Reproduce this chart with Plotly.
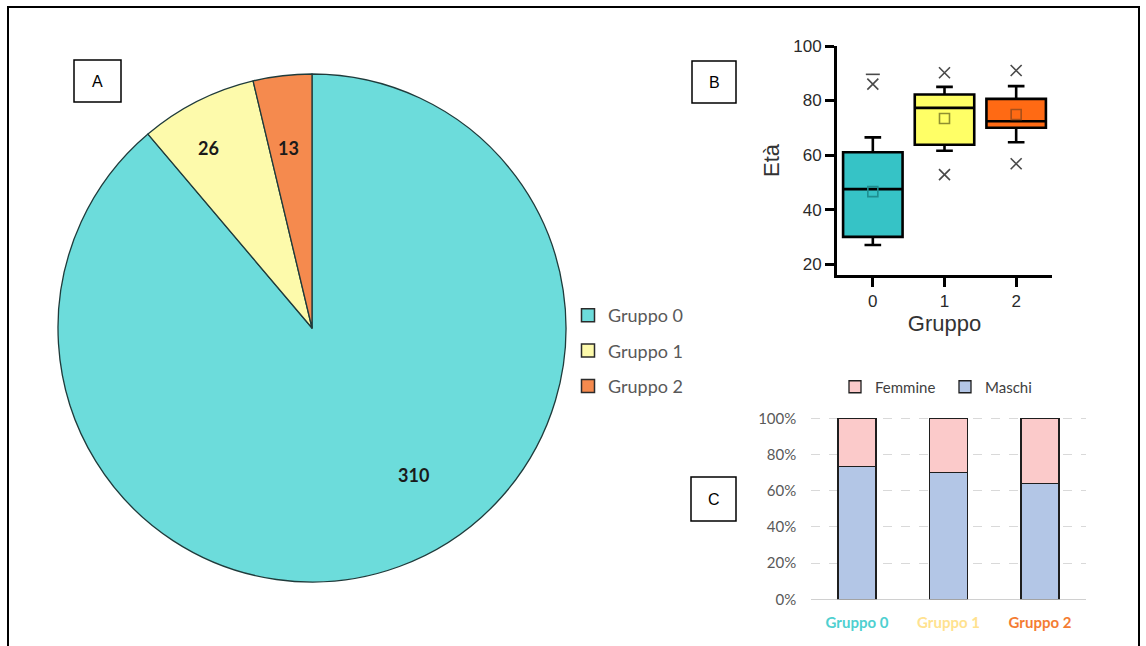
import plotly.graph_objects as go

W, H = 1146, 646

# ---------------- data ----------------
groups = ["Gruppo 0", "Gruppo 1", "Gruppo 2"]
pie_counts = [310, 26, 13]

box_x = [0, 1, 2]
box_q1 = [30.0, 63.8, 70.0]
box_median = [47.5, 77.3, 72.4]
box_q3 = [61.0, 82.2, 80.6]
box_low = [27.0, 61.6, 64.7]
box_high = [66.5, 85.0, 85.3]
box_mean = [46.6, 73.4, 74.9]
pct1_x = [0, 1, 2]          # 1% percentile markers (x) – group 0 has none visible
pct1_y = [None, 52.8, 56.8]
pct99_x = [0, 1, 2]
pct99_y = [86.0, 90.2, 91.0]
max_x = [0]
max_y = [89.6]

sex_maschi = [73.5, 70.0, 64.0]
sex_femmine = [26.5, 30.0, 36.0]
y_ticks_c = [0, 20, 40, 60, 80, 100]
y_ticktext_c = ["0%", "20%", "40%", "60%", "80%", "100%"]

pie_colors = ["#6CDCDB", "#FDFAAB", "#F58A4E"]
box_colors = ["#36C3C6", "#FFFF66", "#FF6A14"]
mean_colors = ["#1E8E90", "#8F8F30", "#A8501A"]
label_colors = ["#4FD0D0", "#FFE28F", "#F47C32"]


def px(x):
    return x / W


def py(y):
    return 1 - y / H


fig = go.Figure()

# ---------------- A: pie ----------------
fig.add_trace(go.Pie(
    labels=groups, values=pie_counts, sort=False, direction="clockwise", rotation=0,
    marker=dict(colors=pie_colors, line=dict(color="#1F3B3B", width=1.3)),
    textinfo="none", hoverinfo="label+value", showlegend=False,
    domain=dict(x=[px(58), px(566)], y=[py(582), py(74)]),
))

# legend for pie (library legend, one entry per group)
for g, c in zip(groups, pie_colors):
    fig.add_trace(go.Scatter(
        x=[None], y=[None], mode="markers", name=g, legend="legend", legendgroup=g,
        marker=dict(symbol="square", size=13, color=c, line=dict(color="#2B2B2B", width=1.5)),
        xaxis="x", yaxis="y", hoverinfo="skip",
    ))

# ---------------- B: box plot ----------------
for i in range(3):
    fig.add_trace(go.Box(
        x=[box_x[i]], q1=[box_q1[i]], median=[box_median[i]], q3=[box_q3[i]],
        lowerfence=[box_low[i]], upperfence=[box_high[i]],
        boxpoints=False, width=0.83, whiskerwidth=0.28,
        fillcolor=box_colors[i], line=dict(color="black", width=2.6),
        showlegend=False, xaxis="x", yaxis="y",
    ))
    fig.add_trace(go.Scatter(
        x=[box_x[i]], y=[box_mean[i]], mode="markers", showlegend=False,
        marker=dict(symbol="square-open", size=10, color=mean_colors[i], line=dict(width=1.6)),
        xaxis="x", yaxis="y",
    ))

fig.add_trace(go.Scatter(
    x=pct99_x + pct1_x, y=pct99_y + pct1_y, mode="markers", showlegend=False,
    marker=dict(symbol="x-thin-open", size=11, color="#4A4A4A", line=dict(width=1.6)),
    xaxis="x", yaxis="y",
))
fig.add_trace(go.Scatter(
    x=max_x, y=max_y, mode="markers", showlegend=False,
    marker=dict(symbol="line-ew-open", size=10, color="#4A4A4A", line=dict(width=1.6)),
    xaxis="x", yaxis="y",
))

# ---------------- C: stacked bars ----------------
fig.add_trace(go.Bar(
    x=groups, y=sex_maschi, name="Maschi", legend="legend2",
    marker=dict(color="#B3C6E6", line=dict(color="#1E1E1E", width=1.3)),
    xaxis="x2", yaxis="y2",
))
fig.add_trace(go.Bar(
    x=groups, y=sex_femmine, name="Femmine", legend="legend2",
    marker=dict(color="#FBCACA", line=dict(color="#1E1E1E", width=1.3)),
    xaxis="x2", yaxis="y2",
))

# ---------------- annotations ----------------
ann = []
pie_label_pos = [(413, 475), (208, 148), (288, 148)]
for v, (lx, ly) in zip(pie_counts, pie_label_pos):
    ann.append(dict(x=px(lx), y=py(ly), xref="paper", yref="paper", text=f"<b>{v}</b>",
                    xanchor="center", yanchor="middle",
                    showarrow=False, font=dict(family="Lato", size=18, color="#1A1A1A")))

panel_boxes = {"A": (74, 60, 121, 102), "B": (692, 61, 736, 103), "C": (691, 477, 736, 521)}
shapes = []
for lab, (x0, y0, x1, y1) in panel_boxes.items():
    shapes.append(dict(type="rect", xref="paper", yref="paper", x0=px(x0), x1=px(x1),
                       y0=py(y1), y1=py(y0), line=dict(color="black", width=1.5),
                       fillcolor="white", layer="below"))
    ann.append(dict(x=px((x0 + x1) / 2), y=py((y0 + y1) / 2), xref="paper", yref="paper",
                    text=lab, showarrow=False, xanchor="center", yanchor="middle",
                    font=dict(family="Liberation Sans", size=16, color="black")))

# outer frame
shapes.append(dict(type="rect", xref="paper", yref="paper", x0=px(8), x1=px(1139),
                   y0=-0.05, y1=py(7), line=dict(color="black", width=2), layer="below"))

tick_text_c = [f"<b><span style='color:{c}'>{g}</span></b>" for g, c in zip(groups, label_colors)]

fig.update_layout(
    width=W, height=H, margin=dict(l=0, r=0, t=0, b=0, autoexpand=False),
    paper_bgcolor="white", plot_bgcolor="white",
    barmode="stack", bargap=0.585, boxmode="overlay",
    annotations=ann, shapes=shapes,
    xaxis=dict(domain=[px(837), px(1052)], range=[-0.5, 2.5], anchor="y",
               tickvals=box_x, ticktext=["0", "1", "2"],
               showline=True, linecolor="black", linewidth=3, mirror=False,
               ticks="outside", ticklen=9, tickwidth=3, tickcolor="black",
               showgrid=False, zeroline=False,
               tickfont=dict(family="Liberation Sans", size=17, color="#2A2A2A"),
               title=dict(text="Gruppo", standoff=1,
                          font=dict(family="Liberation Sans", size=22, color="#333333"))),
    yaxis=dict(domain=[py(275), py(46)], range=[16, 100], anchor="x",
               tickvals=[20, 40, 60, 80, 100],
               showline=True, linecolor="black", linewidth=3,
               ticks="outside", ticklen=9, tickwidth=3, tickcolor="black",
               showgrid=False, zeroline=False,
               tickfont=dict(family="Liberation Sans", size=17, color="#2A2A2A"),
               title=dict(text="Età", standoff=8,
                          font=dict(family="Liberation Sans", size=22, color="#333333"))),
    xaxis2=dict(domain=[px(811.25), px(1085.75)], anchor="y2", type="category",
                tickvals=groups, ticktext=tick_text_c, showline=False, ticks="",
                showgrid=False, zeroline=False, ticklabelstandoff=13,
                tickfont=dict(family="Lato", size=15)),
    yaxis2=dict(domain=[py(599.3), py(416.5)], range=[0, 101], anchor="x2",
                tickmode="array", tickvals=y_ticks_c, ticktext=y_ticktext_c,
                showline=False, ticks="", ticklabelstandoff=14,
                showgrid=True, gridcolor="#D9D9D9", griddash="dash", gridwidth=1,
                zeroline=True, zerolinecolor="#D0D0D0", zerolinewidth=1,
                tickfont=dict(family="Lato", size=15, color="#595959")),
    legend=dict(x=px(568), y=py(351), xanchor="left", yanchor="middle",
                orientation="v", tracegroupgap=9, bgcolor="rgba(0,0,0,0)",
                font=dict(family="Lato", size=18, color="#595959")),
    legend2=dict(x=px(835), y=py(387), xanchor="left", yanchor="middle",
                 orientation="h", traceorder="reversed", bgcolor="rgba(0,0,0,0)",
                 entrywidth=65, entrywidthmode="pixels",
                 font=dict(family="Lato", size=15, color="#404040")),
)

fig.write_html("out.html")
